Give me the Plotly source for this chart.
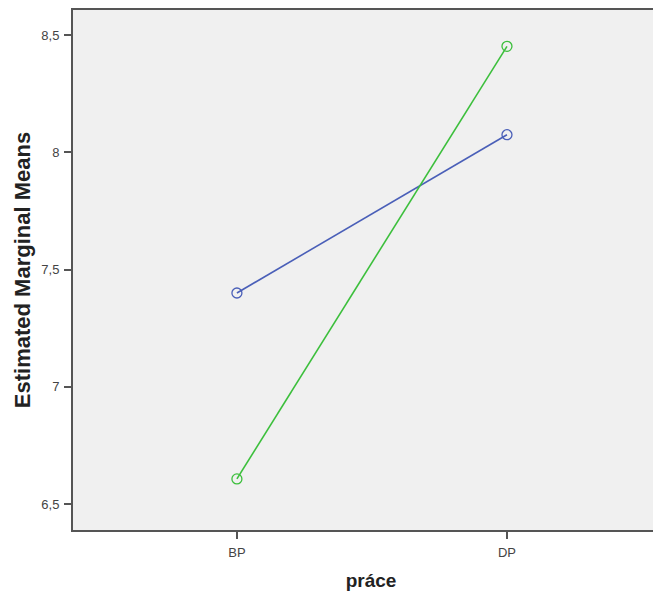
import plotly.graph_objects as go

categories = ["BP", "DP"]
series_blue = [7.40, 8.075]
series_green = [6.607, 8.452]
y_tick_vals = [6.5, 7, 7.5, 8, 8.5]
y_tick_text = ["6,5", "7", "7,5", "8", "8,5"]

x_pos = list(range(len(categories)))

fig = go.Figure()
fig.add_trace(go.Scatter(
    x=x_pos, y=series_blue, mode="lines+markers",
    line=dict(color="#4a5fb8", width=1.6),
    marker=dict(symbol="circle-open", size=10, color="#4a5fb8", line=dict(width=1.3)),
    showlegend=False))
fig.add_trace(go.Scatter(
    x=x_pos, y=series_green, mode="lines+markers",
    line=dict(color="#3cbf3c", width=1.6),
    marker=dict(symbol="circle-open", size=10, color="#3cbf3c", line=dict(width=1.3)),
    showlegend=False))

fig.update_layout(
    width=661, height=591,
    margin=dict(l=65, r=0, t=2, b=69),
    paper_bgcolor="white", plot_bgcolor="#f0f0f0",
    font=dict(family="Liberation Sans, Arial, sans-serif", color="#333"),
    xaxis=dict(
        range=[-0.607, 1.600], tickvals=x_pos, ticktext=categories,
        showgrid=False, zeroline=False,
        showline=True, linecolor="#555", linewidth=2, mirror=True,
        ticks="outside", ticklen=7, tickwidth=1.5, tickcolor="#555",
        ticklabelstandoff=2,
        tickfont=dict(size=13, color="#444"),
        title=dict(text="<b>práce</b>", font=dict(size=19, color="#222"), standoff=15),
    ),
    yaxis=dict(
        range=[6.389, 8.607], tickvals=y_tick_vals, ticktext=y_tick_text,
        showgrid=False, zeroline=False,
        showline=True, linecolor="#555", linewidth=2,
        ticks="outside", ticklen=7, tickwidth=1.5, tickcolor="#555",
        ticklabelstandoff=2,
        tickfont=dict(size=13, color="#444"),
        title=dict(text="<b>Estimated Marginal Means</b>", font=dict(size=22, color="#222"), standoff=5),
    ),
)

fig.write_html("out.html")
